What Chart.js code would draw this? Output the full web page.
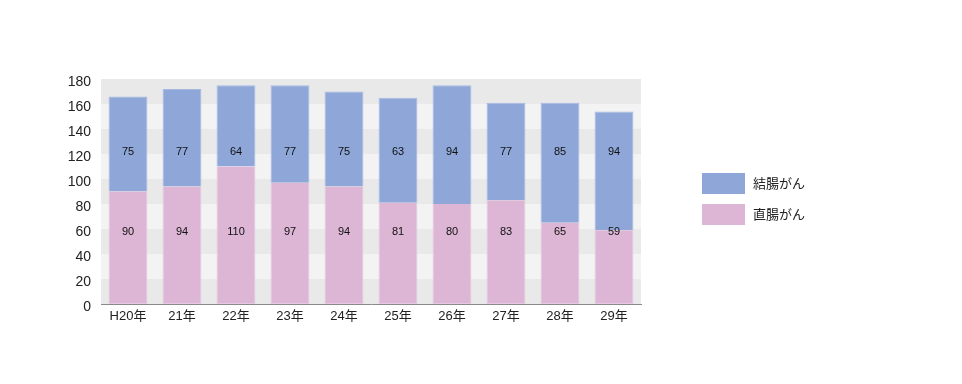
<!DOCTYPE html>
<html lang="ja">
<head>
  <meta charset="UTF-8">
  <title>結腸がん・直腸がん</title>
  <script src="https://cdn.jsdelivr.net/npm/chart.js"></script>
  <style>
    * {
      margin: 0;
      padding: 0;
      box-sizing: border-box;
    }

    body {
      background-color: #fff;
      width: 962px;
      height: 384px;
      overflow: hidden;
    }
  </style>
</head>
<body>
  <canvas id="chart" width="962" height="384"></canvas>

  <script>
    const years = ['H20年', '21年', '22年', '23年', '24年', '25年', '26年', '27年', '28年', '29年'];
    // bar heights as drawn in the picture
    const colon = [76, 78, 65, 78, 76, 84, 95, 78, 96, 95];
    const rectum = [90, 94, 110, 97, 94, 81, 80, 83, 65, 59];
    // numbers printed on the bars
    const colonLabels = [75, 77, 64, 77, 75, 63, 94, 77, 85, 94];
    const rectumLabels = [90, 94, 110, 97, 94, 81, 80, 83, 65, 59];
    const yTicks = [0, 20, 40, 60, 80, 100, 120, 140, 160, 180];

    const fontFamily = "'Liberation Sans', 'Noto Sans CJK JP', sans-serif";

    // alternating grey bands behind the bars
    const bandsPlugin = {
      id: 'bands',
      beforeDatasetsDraw(chart) {
        const { ctx, chartArea, scales } = chart;
        const y = scales.y;
        ctx.save();
        for (let i = 0; i < yTicks.length - 1; i++) {
          const top = y.getPixelForValue(yTicks[i + 1]);
          const bottom = y.getPixelForValue(yTicks[i]);
          ctx.fillStyle = i % 2 === 0 ? '#e9e9e9' : '#f3f3f3';
          ctx.fillRect(chartArea.left, top, chartArea.right - chartArea.left, bottom - top);
        }
        ctx.restore();
      }
    };

    // numbers on the bars, at a fixed height for each series
    const valuesPlugin = {
      id: 'values',
      afterDatasetsDraw(chart) {
        const { ctx, scales } = chart;
        const labelSets = [rectumLabels, colonLabels];
        const labelAt = [58, 122];
        ctx.save();
        ctx.font = '11px ' + fontFamily;
        ctx.fillStyle = '#111';
        ctx.textAlign = 'center';
        ctx.textBaseline = 'middle';
        chart.data.datasets.forEach((ds, di) => {
          const meta = chart.getDatasetMeta(di);
          meta.data.forEach((bar, i) => {
            ctx.fillText(labelSets[di][i], bar.x, scales.y.getPixelForValue(labelAt[di]));
          });
        });
        ctx.restore();
      }
    };

    // legend on the right, top series first
    const legendPlugin = {
      id: 'sideLegend',
      afterDraw(chart) {
        const { ctx } = chart;
        const order = [1, 0];
        ctx.save();
        ctx.font = '13px ' + fontFamily;
        ctx.textBaseline = 'middle';
        order.forEach((di, k) => {
          const ds = chart.data.datasets[di];
          const top = 173 + k * 31;
          ctx.fillStyle = ds.backgroundColor;
          ctx.fillRect(702, top, 43, 21);
          ctx.fillStyle = '#222';
          ctx.fillText(ds.label, 753, top + 11);
        });
        ctx.restore();
      }
    };

    new Chart(document.getElementById('chart').getContext('2d'), {
      type: 'bar',
      data: {
        labels: years,
        datasets: [
          {
            label: '直腸がん',
            data: rectum,
            backgroundColor: '#ddb5d5',
            borderColor: '#e6c8e0',
            borderWidth: 1,
            borderSkipped: 'end',
            categoryPercentage: 1,
            barPercentage: 0.72
          },
          {
            label: '結腸がん',
            data: colon,
            backgroundColor: '#8ea7d8',
            borderColor: '#a6b9e2',
            borderWidth: 1,
            borderSkipped: 'start',
            categoryPercentage: 1,
            barPercentage: 0.72
          }
        ]
      },
      options: {
        responsive: false,
        devicePixelRatio: 1,
        animation: false,
        layout: {
          padding: { left: 0, top: 79, right: 321, bottom: 0 }
        },
        plugins: {
          legend: { display: false },
          tooltip: { enabled: false }
        },
        scales: {
          x: {
            stacked: true,
            grid: { display: false, drawTicks: false },
            border: { display: true, color: '#8a8a8a', width: 1 },
            ticks: {
              color: '#222',
              padding: 5,
              font: { family: fontFamily, size: 13 }
            },
            afterFit(scale) {
              scale.height = 80;
            }
          },
          y: {
            stacked: true,
            min: 0,
            max: 180,
            grid: { display: false, drawTicks: false },
            border: { display: true, color: '#8a8a8a', width: 1 },
            ticks: {
              stepSize: 20,
              color: '#222',
              padding: 10,
              labelOffset: 3,
              font: { family: fontFamily, size: 14 }
            },
            afterFit(scale) {
              scale.width = 101;
            }
          }
        }
      },
      plugins: [bandsPlugin, valuesPlugin, legendPlugin]
    });
  </script>
</body>
</html>
